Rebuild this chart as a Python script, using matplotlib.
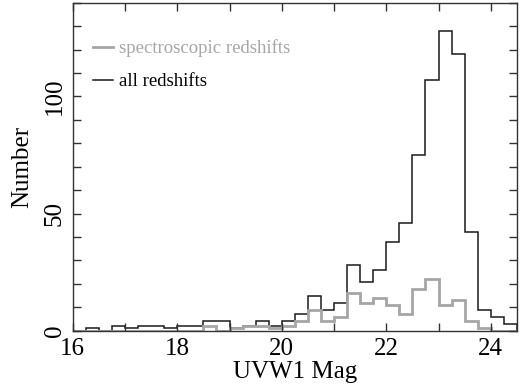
import matplotlib
matplotlib.use('Agg')
import matplotlib.pyplot as plt
from matplotlib.ticker import MultipleLocator
from matplotlib.lines import Line2D
import numpy as np

# histogram of UVW1 magnitudes, 0.25 mag bins from 16 to 24.5
bin_lo = 16.0
bin_hi = 24.5
bin_width = 0.25
all_counts = [0, 1, 0, 2, 1, 2, 2, 1, 2, 2,
              4, 4, 1, 2, 4, 2,
              4, 7, 15, 9, 12, 28, 21, 26,
              38, 46, 75, 107, 128, 118, 42, 9, 6, 3]
spec_counts = [0, 0, 0, 0, 0, 0, 0, 0, 0, 0,
               2, 0, 1, 2, 2, 1,
               2, 4, 9, 4, 6, 16, 12, 14,
               11, 7, 18, 22, 11, 13, 4, 1, 0, 0]
labels = ['spectroscopic redshifts', 'all redshifts']

edges = np.arange(bin_lo, bin_hi + bin_width / 2, bin_width)

plt.rcParams['font.family'] = ['Liberation Serif', 'DejaVu Serif']

fig = plt.figure(figsize=(5.2, 3.9), dpi=100)
ax = fig.add_axes([0.140, 0.152, 0.854, 0.841])

gray = '#a6a6a6'
black = '#1a1a1a'
ax.stairs(all_counts, edges, color=black, lw=1.1, baseline=0)
ax.stairs(spec_counts, edges, color=gray, lw=2.0, baseline=0)

ax.set_xlim(16, 24.5)
ax.set_ylim(0, 140)

ax.xaxis.set_major_locator(MultipleLocator(2))
ax.xaxis.set_minor_locator(MultipleLocator(1))
ax.yaxis.set_major_locator(MultipleLocator(50))
ax.yaxis.set_minor_locator(MultipleLocator(10))
ax.tick_params(which='both', direction='in', top=True, right=True,
               length=6, width=1.0, color='#333333', labelsize=18)
ax.tick_params(axis='x', pad=5)
ax.tick_params(axis='y', pad=5)
for t in ax.get_yticklabels():
    t.set_rotation(90)
    t.set_va('center')
for s in ax.spines.values():
    s.set_color('#333333')
    s.set_linewidth(1.0)

ax.set_xlabel('UVW1 Mag', fontsize=18, labelpad=1)
ax.set_ylabel('Number', fontsize=18, labelpad=8)

h1 = Line2D([], [], color=gray, lw=2.0)
h2 = Line2D([], [], color=black, lw=1.1)
leg = ax.legend([h1, h2], labels, loc='upper left', bbox_to_anchor=(0.008, 0.94),
                frameon=False, fontsize=13.5, handlelength=1.05, handletextpad=0.3,
                labelspacing=0.85)
leg.get_texts()[0].set_color(gray)
leg.get_texts()[1].set_color('black')

fig.savefig('out.png', dpi=100)
